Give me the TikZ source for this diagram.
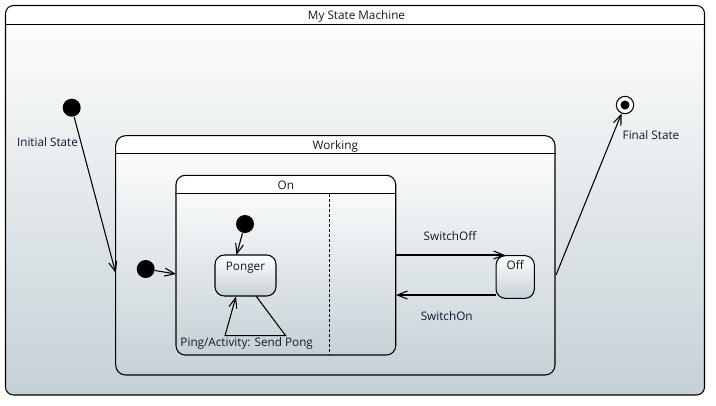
\documentclass[tikz,border=0pt]{standalone}
\usepackage{fontspec}
\setmainfont{Open Sans}
\usetikzlibrary{arrows.meta}
\definecolor{stgrey}{RGB}{197,209,214}
\definecolor{ink}{RGB}{20,22,40}
\begin{document}
\begin{tikzpicture}[x=0.75pt,y=-0.75pt,
  every node/.style={font=\fontsize{8.8pt}{10.5pt}\selectfont, text=ink},
  line width=0.8pt,
  >={Straight Barb[length=7.5pt,width=6pt]},
  compstate/.style={draw=black, fill=white, inner sep=0pt,
    path picture={\shade[top color=white,bottom color=stgrey]
      ([yshift=-#1]path picture bounding box.north west) rectangle
      (path picture bounding box.south east);}},
  simplestate/.style={draw=black, rounded corners=7pt, inner sep=0pt,
    top color=white, bottom color=stgrey, text height=6pt},
  initial/.style={circle, fill=black, inner sep=0pt, minimum size=13.5pt},
  final/.style={circle, draw=black, fill=white, inner sep=0pt, minimum size=13pt,
    path picture={\fill[black] (path picture bounding box.center) circle (3.4pt);}},
  region/.style={dash pattern=on 2.25pt off 1.5pt, line width=0.6pt}
]
\useasboundingbox (0,0) rectangle (716,405);
\fill[white] (0,0) rectangle (716,405);

% top-level machine
\node[compstate=14.6pt, rounded corners=6pt, minimum width=524.25pt,
      minimum height=292.1pt] (machine) at (355,200.25) {};
\draw ([yshift=-14.6pt]machine.north west) -- ([yshift=-14.6pt]machine.north east);
\node (machine-title) at (356.5,16.5) {My State Machine};

% composite state Working
\node[compstate=13.9pt, rounded corners=7.5pt, minimum width=329.5pt,
      minimum height=179.5pt] (working) at (335.35,255.35) {};
\draw ([yshift=-13.9pt]working.north west) -- ([yshift=-13.9pt]working.north east);
\node (working-title) at (335.35,146) {Working};

% composite state On with two regions
\node[compstate=14.1pt, rounded corners=7pt, minimum width=164.8pt,
      minimum height=134.8pt] (on) at (285.85,265.15) {};
\draw ([yshift=-14.1pt]on.north west) -- ([yshift=-14.1pt]on.north east);
\node (on-title) at (285.85,185.5) {On};
\draw[region] (329.3,194) -- (329.3,355);

% simple states
\node[simplestate, minimum width=45.75pt, minimum height=30.75pt,
      text depth=14pt] (ponger) at (245.5,275.5) {Ponger};
\node[simplestate, minimum width=28.7pt, minimum height=32pt,
      text depth=17pt] (off) at (515.2,277) {Off};

% pseudo states
\node[initial] (init) at (71.7,107.7) {};
\node[initial] (init-working) at (145.7,269) {};
\node[initial] (init-on) at (245,224) {};
\node[final] (final) at (625,105) {};

% connector end points on state borders
\coordinate (working-entry) at (115.7,273);
\coordinate (on-entry) at (176,274);
\coordinate (ponger-entry) at (236.5,255);
\coordinate (ponger-exit) at (256,296);
\coordinate (loop-a) at (285.7,335.7);
\coordinate (loop-b) at (225,335.7);
\coordinate (ponger-return) at (236,296.5);
\coordinate (on-out) at (396,255);
\coordinate (off-in) at (505,255);
\coordinate (off-out) at (496,295);
\coordinate (on-back) at (396,295);
\coordinate (working-exit) at (556,275);

% transitions
\draw[->] (init) -- (working-entry);
\draw[->] (init-working) -- (on-entry);
\draw[->] (init-on) -- (ponger-entry);
\draw[->] (ponger-exit) -- (loop-a) -- (loop-b) -- (ponger-return);
\draw[->] (on-out) -- (off-in);
\draw[->] (off-out) -- (on-back);
\draw[->] (working-exit) -- (final);

% labels
\node (lbl-init) at (47.5,142.5) {Initial State};
\node (lbl-final) at (651,135.5) {Final State};
\node (lbl-off) at (450,236.5) {SwitchOff};
\node (lbl-on) at (446.7,316.5) {SwitchOn};
\node (lbl-loop) at (246.7,343) {Ping/Activity: Send Pong};
\end{tikzpicture}
\end{document}
